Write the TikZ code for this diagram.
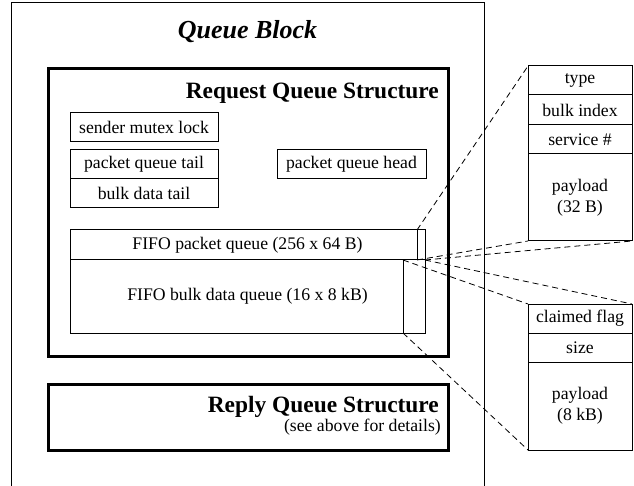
\documentclass[tikz,border=0pt]{standalone}
\usepackage{fontspec}
\setmainfont{Liberation Serif}
\newcommand\fsreg{\fontsize{17.7}{21}\selectfont}
\newcommand\fstitle{\fontsize{23.4}{27}\selectfont\bfseries}
\newcommand\fsbig{\fontsize{26}{30}\selectfont\bfseries\itshape}
\begin{document}
\begin{tikzpicture}[x=1pt,y=-1pt,
  cell/.style={draw, line width=1pt, inner sep=0pt, outer sep=0pt, font=\fsreg, align=center},
  thickbox/.style={draw, line width=3pt, inner sep=0pt, outer sep=0pt},
  thinbox/.style={draw, line width=1pt, inner sep=0pt, outer sep=0pt},
  zoomline/.style={dashed, line width=0.8pt, dash pattern=on 6pt off 4pt}]
\useasboundingbox (0,0) rectangle (634,486);
\fill[white] (0,0) rectangle (634,486);
% outer queue block (extends below the picture)
\node[thinbox, minimum width=473pt, minimum height=497pt, anchor=north west] (qb) at (11,3) {};
\node[font=\fsbig, anchor=base] (qbt) at (247.5,39) {Queue Block};
% request queue structure
\node[thickbox, minimum width=400pt, minimum height=287pt, anchor=north west] (rq) at (48,69) {};
\node[font=\fstitle, anchor=base east, inner sep=0pt] (rqt) at (439,98.5) {Request Queue Structure};
\node[cell, minimum width=148pt, minimum height=29pt] (sml) at (144,127.5) {sender mutex lock};
\node[cell, minimum width=148pt, minimum height=29pt] (pqt) at (144,164.5) {packet queue tail};
\node[cell, minimum width=148pt, minimum height=29pt] (bdt) at (144,193.5) {bulk data tail};
\node[cell, minimum width=149pt, minimum height=29pt] (pqh) at (351.5,164.5) {packet queue head};
\node[cell, minimum width=355pt, minimum height=30pt] (fpq) at (247.5,245) {FIFO packet queue (256 x 64 B)};
\node[cell, minimum width=355pt, minimum height=73pt] (fbq) at (247.5,296.5) {FIFO bulk data queue (16 x 8 kB)};
\node[thinbox, minimum width=8pt, minimum height=30pt] (sp) at (421,245) {};
\node[thinbox, minimum width=22pt, minimum height=73pt] (sb) at (414,296.5) {};
% reply queue structure
\node[thickbox, minimum width=400pt, minimum height=66pt, anchor=north west] (rp) at (48,384) {};
\node[font=\fstitle, anchor=base east, inner sep=0pt] (rpt) at (439,412) {Reply Queue Structure};
\node[font=\fsreg, anchor=base east, inner sep=0pt] (rps) at (441,431) {(see above for details)};
% packet detail
\node[cell, minimum width=104pt, minimum height=29pt] (ptype) at (580,80.5) {type};
\node[cell, minimum width=104pt, minimum height=30pt] (pbi) at (580,110) {bulk index};
\node[cell, minimum width=104pt, minimum height=29pt] (psv) at (580,139.5) {service \#};
\node[cell, minimum width=104pt, minimum height=87pt] (ppl) at (580,197.5) {payload\\(32 B)};
% bulk detail
\node[cell, minimum width=104pt, minimum height=29pt] (bcf) at (580,318.5) {claimed flag};
\node[cell, minimum width=104pt, minimum height=29pt] (bsz) at (580,347.5) {size};
\node[cell, minimum width=104pt, minimum height=88pt] (bpl) at (580,406) {payload\\(8 kB)};
% zoom lines
\draw[zoomline] (sp.north west) -- (ptype.north west);
\draw[zoomline] (sp.south west) -- (ppl.south west);
\draw[zoomline] (sp.south east) -- (ppl.south east);
\draw[zoomline] (sb.north west) -- (bcf.north west);
\draw[zoomline] (sb.north east) -- (bcf.north east);
\draw[zoomline] (sb.south west) -- (bpl.south west);
\end{tikzpicture}
\end{document}
